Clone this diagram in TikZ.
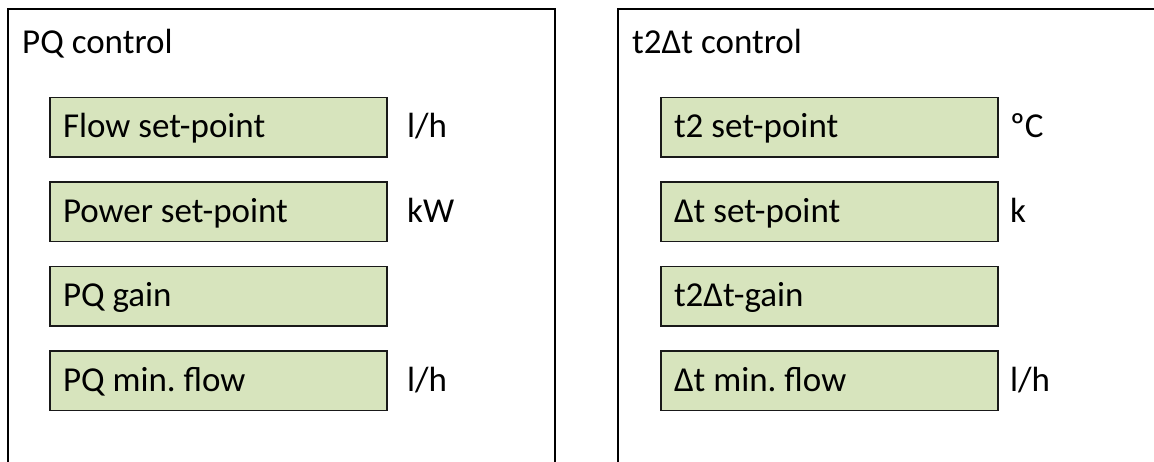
\documentclass[tikz,border=0pt]{standalone}
\usepackage{fontspec}
\setmainfont{Carlito}
\frenchspacing
\definecolor{boxgreen}{HTML}{D7E4BD}
\begin{document}
\begin{tikzpicture}[x=1pt,y=-1pt,
  every node/.style={font=\fontsize{35}{42}\selectfont},
  panel/.style={draw=black,line width=2pt,anchor=north west,inner sep=0pt,outer sep=0pt},
  title/.style={anchor=base west,inner sep=0pt},
  setbox/.style={draw=black!90,line width=1.4pt,fill=boxgreen,anchor=north west,
    minimum height=59.5pt,text width=311pt,inner xsep=13pt,inner ysep=0pt,
    align=flush left,text height=21pt,text depth=0pt,outer sep=0pt},
  unit/.style={anchor=base west,inner sep=0pt}]
\useasboundingbox (0,0) rectangle (1154,461);
\clip (0,0) rectangle (1154,461);

% the two control panels (open towards the bottom)
\node[panel,minimum width=547pt,minimum height=480pt] (pq) at (8,9) {};
\node[panel,minimum width=550pt,minimum height=480pt] (tdt) at (618,9) {};
\node[title] (pqt) at (22,53) {PQ control};
\node[title] (tdtt) at (632,53) {t2Δt control};

% PQ control parameters
\node[setbox] (flow) at (50,97.3) {Flow set-point};
\node[setbox] (power) at (50,181.8) {Power set-point};
\node[setbox] (pqgain) at (50,266.3) {PQ gain};
\node[setbox] (pqmin) at (50,350.8) {PQ min. flow};
\node[unit] (uflow) at (407,137.8) {l/h};
\node[unit] (upower) at (407,222.3) {kW};
\node[unit] (upqmin) at (407,391.3) {l/h};

% t2Δt control parameters
\node[setbox] (t2) at (661,97.3) {t2 set-point};
\node[setbox] (dt) at (661,181.8) {Δt set-point};
\node[setbox] (tdtgain) at (661,266.3) {t2Δt-gain};
\node[setbox] (dtmin) at (661,350.8) {Δt min. flow};
\node[unit] (ut2) at (1010,137.8) {ºC};
\node[unit] (udt) at (1010,222.3) {k};
\node[unit] (udtmin) at (1010,391.3) {l/h};
\end{tikzpicture}
\end{document}
